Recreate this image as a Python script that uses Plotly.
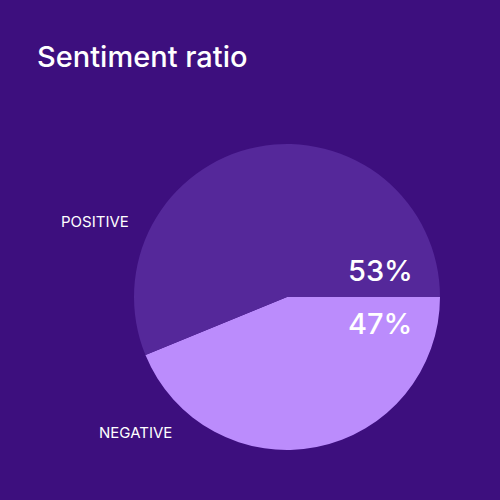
import plotly.graph_objects as go

# sentiment data
categories = ['POSITIVE', 'NEGATIVE']
share_labels = ['53%', '47%']
# slice sizes as drawn in the reference (measured from the arc angles)
slice_sizes = [56.2, 43.8]

BG = '#3d0f7e'
COLORS = ['#55289a', '#bb8cfc']
FONT = 'Inter'

# negative goes first so that it hangs below the 3 o'clock line and
# positive wraps over the top, as in the original
fig = go.Figure(go.Pie(
    labels=categories[::-1],
    values=slice_sizes[::-1],
    marker=dict(colors=COLORS[::-1], line=dict(width=0)),
    sort=False,
    direction='counterclockwise',
    rotation=90,
    textinfo='none',
    hoverinfo='label+percent',
    showlegend=False,
    domain=dict(x=[0.268, 0.88], y=[0.1, 0.712]),
))

# category names outside the pie, on the left
for name, (x, y) in zip(categories, [(59, 222), (97, 432)]):
    fig.add_annotation(text=name, x=x / 500, y=1 - y / 500, xref='paper', yref='paper',
                       xanchor='left', yanchor='middle', showarrow=False,
                       font=dict(family=FONT, size=15, color='white'))

# percentages inside the slices, on the right
for txt, (x, y) in zip(share_labels, [(346, 270), (346, 323)]):
    fig.add_annotation(text=txt, x=x / 500, y=1 - y / 500, xref='paper', yref='paper',
                       xanchor='left', yanchor='middle', showarrow=False,
                       font=dict(family=FONT, size=29, color='white', weight=500))

fig.update_layout(
    width=500, height=500,
    margin=dict(l=0, r=0, t=0, b=0),
    paper_bgcolor=BG, plot_bgcolor=BG,
    title=dict(text='Sentiment ratio', x=37 / 500, xanchor='left',
               y=1 - 57 / 500, yanchor='middle',
               font=dict(family=FONT, size=29, color='white', weight=500)),
)

# drop the default page margin so the chart fills the window
fig.write_html('out.html', config={'displayModeBar': False},
               post_script="document.body.style.margin='0';")
